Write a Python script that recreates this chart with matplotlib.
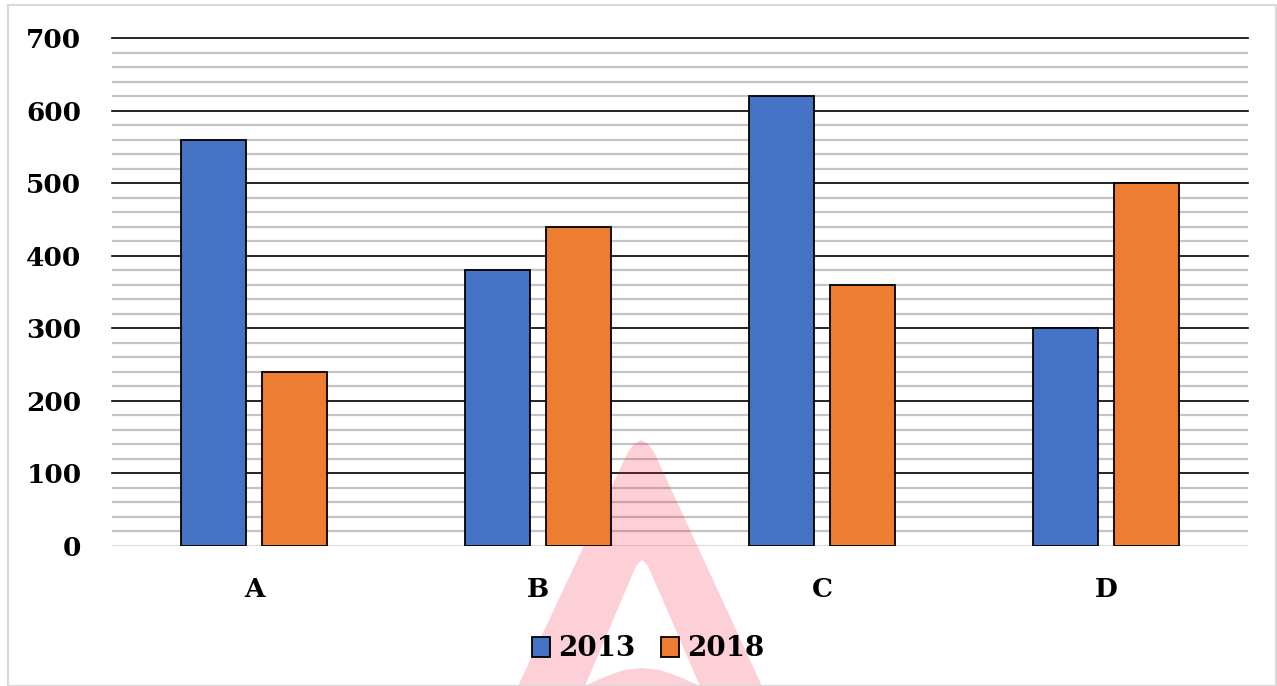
import matplotlib
matplotlib.use("Agg")
import matplotlib.pyplot as plt
import numpy as np
from matplotlib.patches import Rectangle, PathPatch
from matplotlib.path import Path

categories = ["A", "B", "C", "D"]
series_names = ["2013", "2018"]
values_2013 = [560, 380, 620, 300]
values_2018 = [240, 440, 360, 500]
y_ticks = [0, 100, 200, 300, 400, 500, 600, 700]
minor_ticks = [v for v in range(0, 701, 20) if v % 100 != 0]

colors = ["#4472C4", "#ED7D31"]
W, H = 1277, 686

fig = plt.figure(figsize=(W / 100, H / 100), dpi=100)
fig.patches.append(Rectangle((8 / W, 0.0), 1268 / W, 1 - 5 / H, transform=fig.transFigure,
                             fill=False, edgecolor="#d9d9d9", linewidth=1.5))
ax = fig.add_axes([112 / W, 1 - 546 / H, (1248 - 112) / W, (546 - 38) / H])

x = np.arange(len(categories))
w = 0.229
off = 0.142
b1 = ax.bar(x - off, values_2013, w, color=colors[0], edgecolor="black", linewidth=1.3, zorder=3, label=series_names[0])
b2 = ax.bar(x + off, values_2018, w, color=colors[1], edgecolor="black", linewidth=1.3, zorder=3, label=series_names[1])

ax.set_xlim(-0.5, 3.5)
ax.set_ylim(0, 700)
ax.set_yticks(y_ticks)
for v in minor_ticks:
    ax.axhline(v, color="#c4c4c4", linewidth=1.6, zorder=1)
for v in y_ticks[1:]:
    ax.axhline(v, color="black", linewidth=1.2, zorder=1.2, clip_on=False)
ax.axhline(0, color="#d9d9d9", linewidth=1.5, zorder=2)

# watermark (decorative)
def fp(px, py):
    return (px / W, 1 - py / H)
outer = [(628, 452), (634, 444), (641, 440), (648, 444), (654, 452), (762, 686), (518, 686)]
inner = [(636, 566), (642, 560), (648, 566), (700, 686), (680, 677), (660, 670), (642, 668),
         (624, 670), (604, 677), (585, 686)]
inner = inner[::-1]
verts = [fp(*p) for p in outer] + [fp(*outer[0])] + [fp(*p) for p in inner] + [fp(*inner[0])]
codes = ([Path.MOVETO] + [Path.LINETO] * (len(outer) - 1) + [Path.CLOSEPOLY]
         + [Path.MOVETO] + [Path.LINETO] * (len(inner) - 1) + [Path.CLOSEPOLY])
wm = PathPatch(Path(verts, codes), transform=fig.transFigure, facecolor="#f9173f", alpha=0.2,
               edgecolor="none", zorder=2.5, clip_on=False)
ax.add_patch(wm)

ax.xaxis.set_zorder(5)
ax.yaxis.set_zorder(5)
ax.tick_params(axis="both", which="both", length=0)
ax.set_xticks(x)
ax.set_xticklabels(categories)
ax.tick_params(axis="x", pad=22)
ax.tick_params(axis="y", pad=22)
for lbl in ax.get_yticklabels() + ax.get_xticklabels():
    lbl.set_fontsize(19)
    lbl.set_fontfamily("DejaVu Serif")
    lbl.set_fontweight("bold")
for s in ax.spines.values():
    s.set_visible(False)

leg = fig.legend(handles=[b1, b2], labels=series_names, loc="center", bbox_to_anchor=(648 / W, 1 - 649 / H),
                 ncol=2, frameon=False, prop={"family": "DejaVu Serif", "weight": "bold", "size": 20},
                 handlelength=0.65, handleheight=0.75, handletextpad=0.3, columnspacing=0.9,
                 borderpad=0.2)

fig.savefig("out.png", dpi=100)
